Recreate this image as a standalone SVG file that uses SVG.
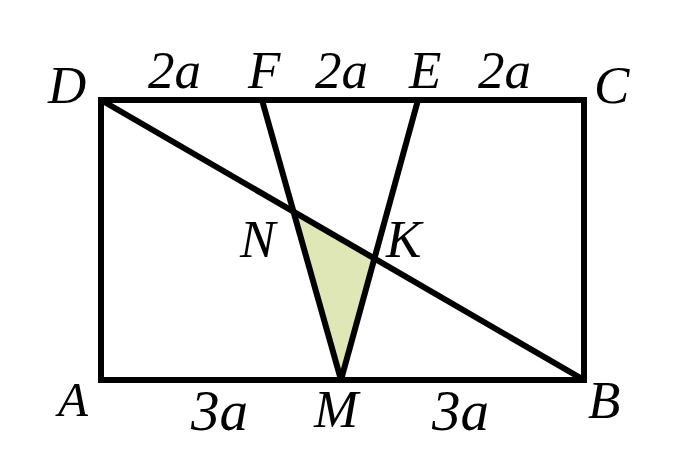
<svg xmlns="http://www.w3.org/2000/svg" width="676" height="468" viewBox="0 0 676 468">
<style>
.l{stroke:#000;stroke-width:6;fill:none;stroke-linecap:butt;stroke-linejoin:miter}
.t{font-family:"Liberation Serif","Times New Roman",serif;font-style:italic;font-size:53px;fill:#000}
.s{font-size:49px}
.b{font-size:57px}
</style>
<rect width="676" height="468" fill="#fff"/>
<g id="shade"><polygon points="293.5,211.6 374.4,258.5 341,380" fill="#dee7b5"/></g>
<g id="connectors">
<rect class="l" x="101" y="100" width="483" height="280"/>
<line class="l" x1="101" y1="100" x2="584" y2="380"/>
<line class="l" x1="262" y1="100" x2="341" y2="380"/>
<line class="l" x1="418" y1="100" x2="341" y2="380"/>
</g>
<g id="labels">
<text class="t" x="48" y="103">D</text>
<text class="t" x="148" y="88">2a</text>
<text class="t" x="248" y="88">F</text>
<text class="t" x="315" y="88">2a</text>
<text class="t" x="409" y="88">E</text>
<text class="t" x="478" y="88">2a</text>
<text class="t" x="594" y="103">C</text>
<text class="t" x="240" y="257">N</text>
<text class="t" x="386" y="257">K</text>
<text class="t s" x="58" y="416">A</text>
<text class="t b" x="191" y="430">3a</text>
<text class="t" x="314" y="427">M</text>
<text class="t b" x="432" y="430">3a</text>
<text class="t" x="588" y="418">B</text>
</g>
</svg>
